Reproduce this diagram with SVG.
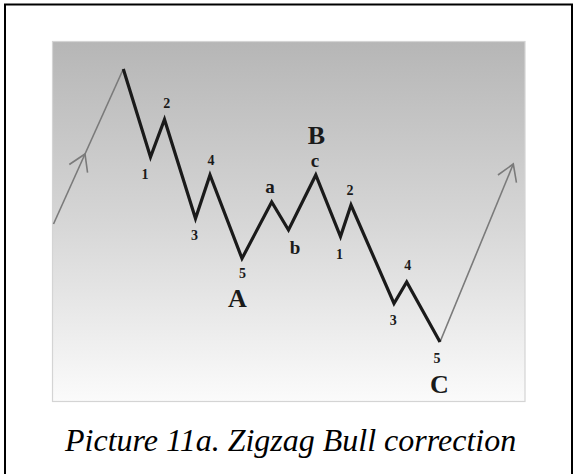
<svg xmlns="http://www.w3.org/2000/svg" width="577" height="474" viewBox="0 0 577 474">
<style>
.wave{fill:none;stroke:#1a1a1a;stroke-width:3.2;stroke-linejoin:miter;stroke-miterlimit:10}
.thin{fill:none;stroke:#7a7a7a;stroke-width:1.6}
.dig{font-family:"Liberation Serif","Times New Roman",serif;font-weight:bold;font-size:14px;fill:#1a1a1a;text-anchor:middle}
.sm{font-family:"Liberation Serif","Times New Roman",serif;font-weight:bold;font-size:19px;fill:#1a1a1a;text-anchor:middle}
.big{font-family:"Liberation Serif","Times New Roman",serif;font-weight:bold;font-size:26px;fill:#1a1a1a;text-anchor:middle}
.cap{font-family:"Liberation Serif","Times New Roman",serif;font-style:italic;font-size:32px;fill:#000}
</style>
<defs>
<linearGradient id="bg" x1="0" y1="0" x2="0" y2="1">
<stop offset="0" stop-color="#b6b6b6"/>
<stop offset="0.5" stop-color="#d6d6d6"/>
<stop offset="1" stop-color="#fbfbfb"/>
</linearGradient>
<marker id="arr" markerUnits="userSpaceOnUse" markerWidth="40" markerHeight="40" viewBox="0 0 40 40" refX="20" refY="20" orient="auto" overflow="visible">
<path d="M4,10 L20,20 L4,30" fill="none" stroke="#7a7a7a" stroke-width="1.6"/>
</marker>
</defs>
<rect width="577" height="474" fill="#fff"/>
<path d="M5,474 V4.5 H572 V474" fill="none" stroke="#000" stroke-width="2"/>
<rect id="panel" x="52.5" y="41.5" width="472.5" height="360" fill="url(#bg)" stroke="#d4d4d4" stroke-width="1.2"/>
<g id="connectors">
<path class="thin" d="M53.5,224 L85,154" marker-end="url(#arr)"/>
<path class="thin" d="M85,154 L123.3,69"/>
<path class="thin" d="M440,342 L513.3,164" marker-end="url(#arr)"/>
<polyline class="wave" points="123.3,69 150.5,157 164.5,119.5 195.5,218.5 210,175 242,258.5 271.7,202 288.5,230 315.8,175 340.5,236.5 351,205 394,303.5 406.7,282 440,342"/>
</g>
<g id="labels">
<g id="n-1a"><text class="dig" x="145" y="179">1</text></g>
<g id="n-2a"><text class="dig" x="166.7" y="107.5">2</text></g>
<g id="n-3a"><text class="dig" x="194.5" y="240">3</text></g>
<g id="n-4a"><text class="dig" x="211" y="165">4</text></g>
<g id="n-5a"><text class="dig" x="242.5" y="278">5</text></g>
<g id="n-A"><text class="big" x="237.5" y="307">A</text></g>
<g id="n-a"><text class="sm" x="270" y="193">a</text></g>
<g id="n-b"><text class="sm" x="295" y="254">b</text></g>
<g id="n-c"><text class="sm" x="315" y="167">c</text></g>
<g id="n-B"><text class="big" x="316.5" y="144">B</text></g>
<g id="n-1c"><text class="dig" x="339.5" y="259">1</text></g>
<g id="n-2c"><text class="dig" x="350" y="195">2</text></g>
<g id="n-3c"><text class="dig" x="393.3" y="325">3</text></g>
<g id="n-4c"><text class="dig" x="407.7" y="270">4</text></g>
<g id="n-5c"><text class="dig" x="437" y="363">5</text></g>
<g id="n-C"><text class="big" x="439.5" y="393">C</text></g>
</g>
<text class="cap" x="65" y="451">Picture 11a. Zigzag Bull correction</text>
</svg>
